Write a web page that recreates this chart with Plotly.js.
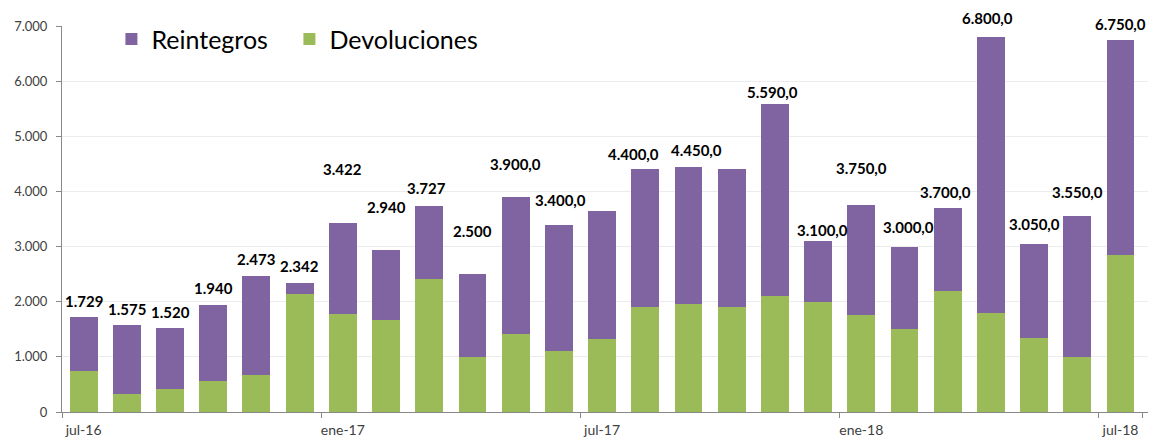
<!DOCTYPE html>
<html>
<head>
<meta charset="utf-8">
<script src="https://cdn.plot.ly/plotly-3.0.1.min.js"></script>
<style>html,body{margin:0;padding:0;background:#fff;}#chart{width:1153px;height:437px;}</style>
</head>
<body>
<div id="chart"></div>
<script>
// ---- data ----
var months = ["jul-16","ago-16","sep-16","oct-16","nov-16","dic-16","ene-17","feb-17","mar-17","abr-17","may-17","jun-17","jul-17","ago-17","sep-17","oct-17","nov-17","dic-17","ene-18","feb-18","mar-18","abr-18","may-18","jun-18","jul-18"];
var devoluciones = [735,330,415,570,675,2140,1775,1670,2410,1000,1410,1110,1330,1900,1960,1900,2100,2000,1760,1500,2200,1800,1350,1000,2850];
var reintegros = [994,1245,1105,1370,1798,202,1647,1270,1317,1500,2490,2290,2310,2500,2490,2500,3490,1100,1990,1500,1500,5000,1700,2550,3900];
var totalLabels = ["1.729","1.575","1.520","1.940","2.473","2.342","3.422","2.940","3.727","2.500","3.900,0","3.400,0","","4.400,0","4.450,0","","5.590,0","3.100,0","3.750,0","3.000,0","3.700,0","6.800,0","3.050,0","3.550,0","6.750,0"];
var tickMonths = ["jul-16","ene-17","jul-17","ene-18","jul-18"];

// ---- label placement (layout only, pixels above bar top) ----
var labelLiftPx = [16,16.5,16.5,17,17,16.5,54,43,18.5,43,32.5,25,0,15.5,16.5,0,11.5,11,37,20,15.5,19,20,24,15.5];
var labelXShift = [0,0,0,0,0,0,0,0,-3,0,0,2,0,-12,8,0,-2,4,0,4,-2,-3,0,0,0];

var FONT = "Lato, 'Open Sans', sans-serif";

var traces = [
  {type:"bar", name:"Devoluciones", x:months, y:devoluciones, marker:{color:"#9BBB59"}, legend:"legend2", hoverinfo:"y"},
  {type:"bar", name:"Reintegros", x:months, y:reintegros, marker:{color:"#8064A2"}, legend:"legend", hoverinfo:"y"}
];

var annotations = [];
for (var i = 0; i < months.length; i++) {
  if (!totalLabels[i]) continue;
  annotations.push({
    x: months[i], y: devoluciones[i] + reintegros[i],
    xref:"x", yref:"y", text: totalLabels[i], showarrow:false,
    xanchor:"center", yanchor:"middle", xshift: labelXShift[i], yshift: labelLiftPx[i],
    font:{family:FONT, size:15, color:"#000", weight:"bold"}
  });
}

var legendFont = {family:FONT, size:25, color:"#000"};

var layout = {
  width:1153, height:437,
  margin:{l:62, r:5, t:26, b:25},
  paper_bgcolor:"#fff", plot_bgcolor:"#fff",
  separators:",.",
  barmode:"stack", bargap:0.355,
  showlegend:true,
  legend:{orientation:"h", x:0.0455, y:1.025, xanchor:"left", yanchor:"top",
          font:legendFont, bgcolor:"rgba(0,0,0,0)"},
  legend2:{orientation:"h", x:0.2094, y:1.025, xanchor:"left", yanchor:"top",
          font:legendFont, bgcolor:"rgba(0,0,0,0)"},
  xaxis:{type:"category", tickvals:tickMonths, ticktext:tickMonths, tickson:"boundaries", tickangle:0,
         ticks:"outside", ticklen:5, tickcolor:"#888", showline:true, linecolor:"#888", linewidth:1,
         showgrid:false, tickfont:{family:FONT, size:14, color:"#404040"}, ticklabelstandoff:5, fixedrange:true},
  yaxis:{range:[0,7000], dtick:1000, tickformat:",d", ticks:"outside", ticklen:5, tickcolor:"#888",
         showline:true, linecolor:"#888", linewidth:1, showgrid:true, gridcolor:"#ececec", gridwidth:1,
         zeroline:false, tickfont:{family:FONT, size:13, color:"#404040"}, ticklabelstandoff:6, fixedrange:true},
  annotations: annotations
};

Plotly.newPlot("chart", traces, layout, {displayModeBar:false, staticPlot:true});
</script>
</body>
</html>
